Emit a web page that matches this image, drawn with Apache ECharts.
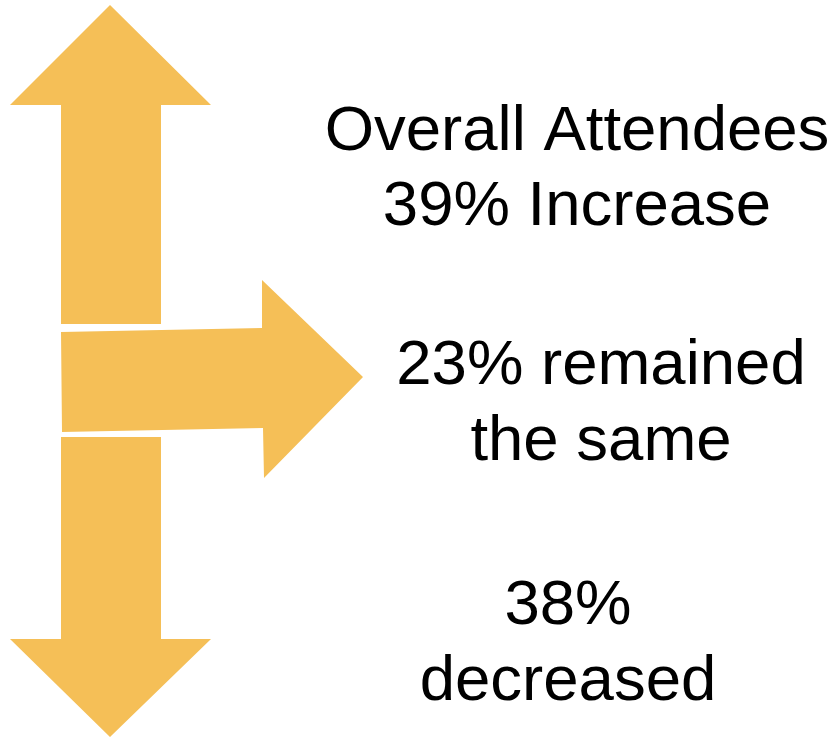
<!DOCTYPE html>
<html>
<head>
<meta charset="utf-8">
<script src="https://cdn.jsdelivr.net/npm/echarts@6/dist/echarts.min.js"></script>
<style>
  html, body { margin: 0; padding: 0; background: #fff; }
  #chart { width: 833px; height: 738px; }
</style>
</head>
<body>
<div id="chart"></div>
<script>
// Attendance change groups and their shares (%)
const groups = ['Increase', 'Same', 'Decrease'];
const percents = [39, 23, 38];
const captions = [
  p => 'Overall Attendees\n' + p + '% Increase',
  p => p + '% remained\nthe same',
  p => p + '%\ndecreased'
];

const ARROW_COLOR = '#F5BF57';

// Arrow outlines and caption anchors in the hidden axis space (0..833 x 0..738)
const layout = {
  Increase: {
    shape: [[110, 5], [211, 105], [161, 105], [161, 324], [61, 324], [61, 105], [10, 105]],
    text: [577, 170], lineHeight: 75
  },
  Same: {
    shape: [[61, 332], [262, 328], [262, 280], [363, 377], [264, 478], [263, 428], [62, 432]],
    text: [601, 404], lineHeight: 76
  },
  Decrease: {
    shape: [[61, 437], [161, 437], [161, 639], [211, 639], [110, 737], [10, 639], [61, 639]],
    text: [568, 644], lineHeight: 76
  }
};

const chart = echarts.init(document.getElementById('chart'));

chart.setOption({
  backgroundColor: '#ffffff',
  animation: false,
  grid: { left: 0, right: 0, top: 0, bottom: 0 },
  xAxis: { type: 'value', min: 0, max: 833, show: false },
  yAxis: { type: 'value', min: 0, max: 738, inverse: true, show: false },
  series: [{
    type: 'custom',
    coordinateSystem: 'cartesian2d',
    data: groups.map((g, i) => [i, percents[i]]),
    renderItem: function (params, api) {
      const idx = api.value(0);
      const pct = api.value(1);
      const key = groups[idx];
      const lay = layout[key];
      const pts = lay.shape.map(p => api.coord(p));
      const tp = api.coord(lay.text);
      return {
        type: 'group',
        children: [
          {
            type: 'polygon',
            shape: { points: pts },
            style: { fill: ARROW_COLOR, stroke: null }
          },
          {
            type: 'text',
            x: tp[0],
            y: tp[1],
            style: {
              text: captions[idx](pct),
              fill: '#000000',
              font: '63.5px "Liberation Sans", Arial, sans-serif',
              lineHeight: lay.lineHeight,
              align: 'center',
              verticalAlign: 'middle'
            }
          }
        ]
      };
    }
  }]
});
</script>
</body>
</html>
